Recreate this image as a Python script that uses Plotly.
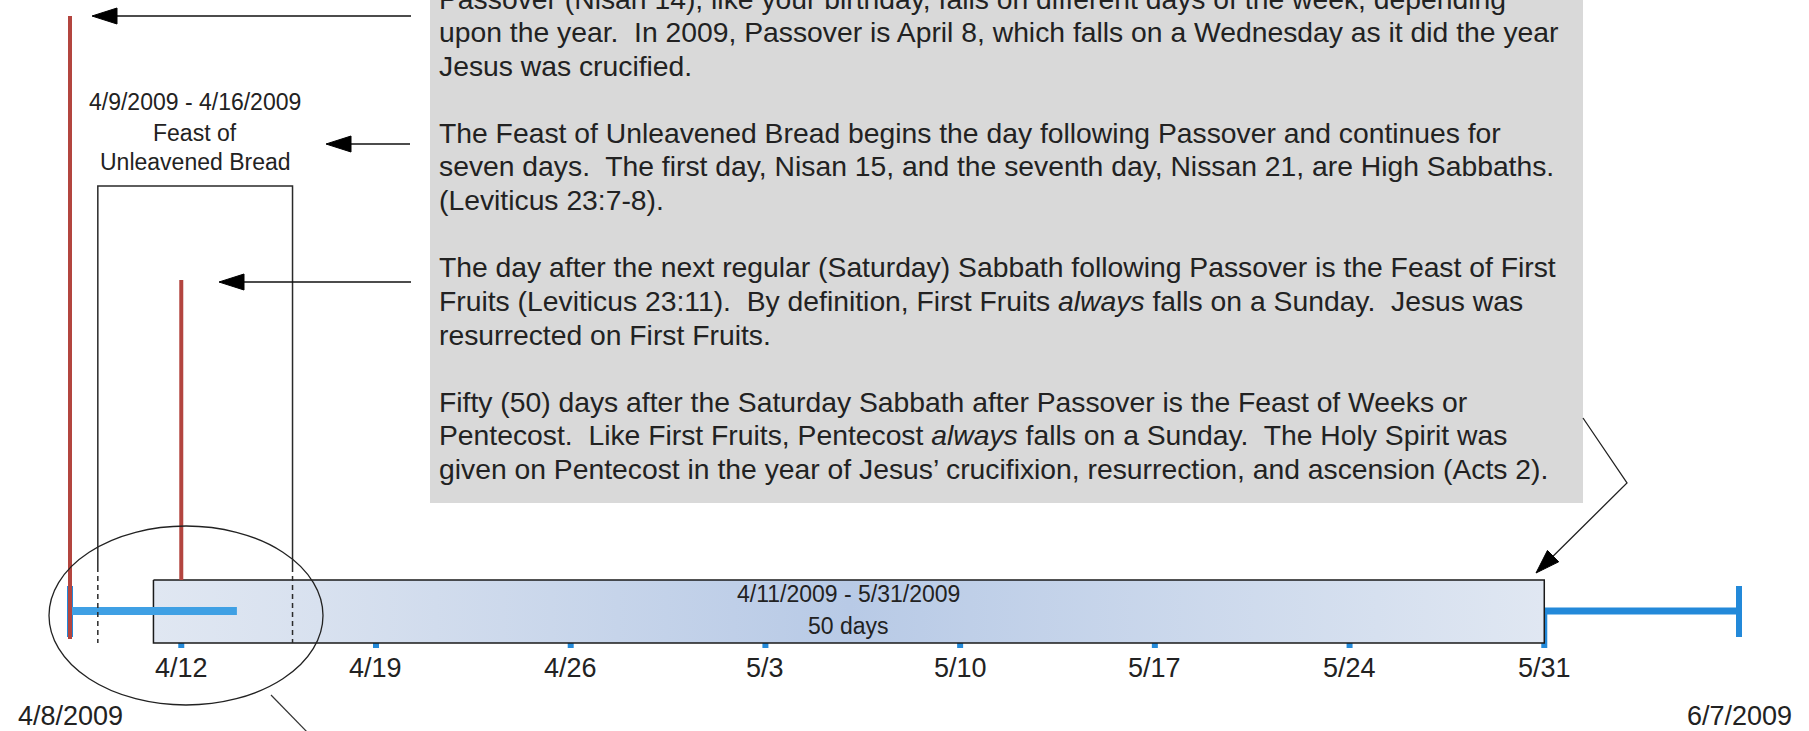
import datetime as dt
import plotly.graph_objects as go

W, H = 1809, 731

# ---------------- data ----------------
timeline_dates = ["2009-04-08", "2009-06-07"]
timeline_labels = ["4/8/2009", "6/7/2009"]
passover_date = "2009-04-08"
first_fruits_date = "2009-04-12"
unleavened_dates = ["2009-04-09", "2009-04-16"]
unleavened_label = ["4/9/2009 - 4/16/2009", "Feast of", "Unleavened Bread"]
omer_dates = ["2009-04-11", "2009-05-31"]
omer_label = ["4/11/2009 - 5/31/2009", "50 days"]
progress_dates = ["2009-04-08", "2009-04-14"]
tick_dates = ["2009-04-12", "2009-04-19", "2009-04-26", "2009-05-03",
              "2009-05-10", "2009-05-17", "2009-05-24", "2009-05-31"]
tick_labels = ["4/12", "4/19", "4/26", "5/3", "5/10", "5/17", "5/24", "5/31"]

SP = "\u00a0 "
note_lines = [
    "Passover (Nisan 14), like your birthday, falls on different days of the week, depending",
    "upon the year." + SP + "In 2009, Passover is April 8, which falls on a Wednesday as it did the year",
    "Jesus was crucified.",
    "",
    "The Feast of Unleavened Bread begins the day following Passover and continues for",
    "seven days." + SP + "The first day, Nisan 15, and the seventh day, Nissan 21, are High Sabbaths.",
    "(Leviticus 23:7-8).",
    "",
    "The day after the next regular (Saturday) Sabbath following Passover is the Feast of First",
    "Fruits (Leviticus 23:11)." + SP + "By definition, First Fruits <i>always</i> falls on a Sunday." + SP + "Jesus was",
    "resurrected on First Fruits.",
    "",
    "Fifty (50) days after the Saturday Sabbath after Passover is the Feast of Weeks or",
    "Pentecost." + SP + "Like First Fruits, Pentecost <i>always</i> falls on a Sunday." + SP + "The Holy Spirit was",
    "given on Pentecost in the year of Jesus\u2019 crucifixion, resurrection, and ascension (Acts 2).",
]

# ---------------- layout constants (pixels) ----------------
X_FIRST_PX, X_LAST_PX = 70, 1739
AXIS_Y = 611
CAP_TOP, CAP_BOT = 586, 637
BOX_TOP, BOX_BOT = 580, 643
TICK_BOT = 648
TICK_LABEL_Y = 668
END_LABEL_Y = 716
PASSOVER_TOP, PASSOVER_BOT = 16, 639
FF_TOP = 280
BRACKET_TOP, BRACKET_SOLID_BOT, BRACKET_DASH_BOT = 186, 567, 643
NOTE_LEFT, NOTE_RIGHT, NOTE_TOP, NOTE_BOT = 430, 1583, -10, 503
NOTE_TEXT_X, NOTE_FIRST_Y, NOTE_LINE_H = 437, -1.5, 33.6

BLUE = "#2389d9"
BLUE_LIGHT = "#3fa0e4"
RED = "#b3453f"
INK = "#222222"
FONT = "Liberation Sans, Arial, sans-serif"

d0 = dt.datetime.fromisoformat(timeline_dates[0])
d1 = dt.datetime.fromisoformat(timeline_dates[1])
px_per_day = (X_LAST_PX - X_FIRST_PX) / (d1 - d0).days
r0 = d0 - dt.timedelta(days=X_FIRST_PX / px_per_day)
r1 = r0 + dt.timedelta(days=W / px_per_day)


def P(x):
    return x / W


def PY(y):
    return 1 - y / H


fig = go.Figure()


def seg(xs, ys, color, width, dash="solid"):
    fig.add_trace(go.Scatter(x=xs, y=ys, mode="lines", hoverinfo="skip",
                             line=dict(color=color, width=width, dash=dash),
                             showlegend=False))


# blue timeline axis and end caps
seg(timeline_dates, [AXIS_Y, AXIS_Y], BLUE, 7)
for d in timeline_dates:
    seg([d, d], [CAP_TOP, CAP_BOT], BLUE, 6)
# weekly tick marks
tx, ty = [], []
for d in tick_dates:
    tx += [d, d, None]
    ty += [AXIS_Y, TICK_BOT, None]
seg(tx, ty, BLUE, 6)

# 50 day box with gradient
fig.add_trace(go.Scatter(
    x=[omer_dates[0], omer_dates[1], omer_dates[1], omer_dates[0], omer_dates[0]],
    y=[BOX_TOP, BOX_TOP, BOX_BOT, BOX_BOT, BOX_TOP],
    mode="lines", fill="toself", hoverinfo="skip", showlegend=False,
    line=dict(color="#1a1a1a", width=1.5),
    fillgradient=dict(type="horizontal", colorscale=[
        [0.0, "#e0e7f2"], [0.12, "#d8e1ef"], [0.5, "#b8cae6"],
        [0.88, "#d6e0ef"], [1.0, "#e0e7f2"]]),
))

# progress bar
seg(progress_dates, [AXIS_Y, AXIS_Y], BLUE_LIGHT, 8)

# Feast of Unleavened Bread bracket
seg([unleavened_dates[0], unleavened_dates[0], unleavened_dates[1], unleavened_dates[1]],
    [BRACKET_SOLID_BOT, BRACKET_TOP, BRACKET_TOP, BRACKET_SOLID_BOT], "#2a2a2a", 1.5)
for d in unleavened_dates:
    seg([d, d], [BRACKET_SOLID_BOT, BRACKET_DASH_BOT], "#2a2a2a", 1.5, dash="5px,4px")

# red markers
seg([passover_date, passover_date], [PASSOVER_TOP, PASSOVER_BOT], RED, 4)
seg([first_fruits_date, first_fruits_date], [FF_TOP, BOX_TOP], RED, 4)

shapes = []
# gray note box
shapes.append(dict(type="rect", xref="paper", yref="y", layer="below",
                   x0=P(NOTE_LEFT), x1=P(NOTE_RIGHT), y0=NOTE_TOP, y1=NOTE_BOT,
                   line=dict(width=0), fillcolor="#d9d9d9"))


def arrow(x_from, tip, y):
    # horizontal arrow pointing left to tip
    shapes.append(dict(type="line", xref="paper", yref="y",
                       x0=P(x_from), x1=P(tip + 20), y0=y, y1=y,
                       line=dict(color="#111", width=1.5)))
    path = f"M {P(tip)},{y} L {P(tip + 25)},{y - 8} L {P(tip + 25)},{y + 8} Z"
    shapes.append(dict(type="path", xref="paper", yref="y", path=path,
                       fillcolor="#000", line=dict(color="#000", width=1)))


arrow(411, 92, 16)
arrow(410, 326, 144)
arrow(411, 219, 282)

# right callout to end of 50-day box
pts = [(1583, 418), (1627, 483), (1536, 573)]
dx, dy = pts[2][0] - pts[1][0], pts[2][1] - pts[1][1]
L = (dx * dx + dy * dy) ** 0.5
ux, uy = dx / L, dy / L
bx, by = pts[2][0] - 24 * ux, pts[2][1] - 24 * uy
nx, ny = -uy, ux
shapes.append(dict(type="path", xref="paper", yref="y",
                   path=f"M {P(pts[0][0])},{pts[0][1]} L {P(pts[1][0])},{pts[1][1]} L {P(bx + 4*ux)},{by + 4*uy}",
                   line=dict(color="#222", width=1.3)))
shapes.append(dict(type="path", xref="paper", yref="y",
                   path=f"M {P(pts[2][0])},{pts[2][1]} L {P(bx + 8*nx)},{by + 8*ny} L {P(bx - 8*nx)},{by - 8*ny} Z",
                   fillcolor="#000", line=dict(color="#000", width=1)))

# ellipse around the first week and its leader line
shapes.append(dict(type="circle", xref="paper", yref="y",
                   x0=P(49), x1=P(323), y0=526, y1=705,
                   line=dict(color="#222", width=1.3)))
shapes.append(dict(type="line", xref="paper", yref="y",
                   x0=P(271), x1=P(310), y0=695, y1=735,
                   line=dict(color="#333", width=1.2)))

annotations = []
for i, t in enumerate(note_lines):
    if not t:
        continue
    annotations.append(dict(text=t, xref="paper", yref="paper", x=P(NOTE_TEXT_X),
                            y=PY(NOTE_FIRST_Y + i * NOTE_LINE_H), xanchor="left",
                            yanchor="middle", showarrow=False,
                            font=dict(family=FONT, size=28.3, color=INK)))

# unleavened bread label
mid_unleavened = (dt.datetime.fromisoformat(unleavened_dates[0]) +
                  (dt.datetime.fromisoformat(unleavened_dates[1]) -
                   dt.datetime.fromisoformat(unleavened_dates[0])) / 2)
for t, y in zip(unleavened_label, [102, 133, 162]):
    annotations.append(dict(text=t, xref="x", yref="y", x=mid_unleavened, y=y,
                            showarrow=False, xanchor="center", yanchor="middle",
                            font=dict(family=FONT, size=23, color=INK)))

# 50 day label
mid_omer = (dt.datetime.fromisoformat(omer_dates[0]) +
            (dt.datetime.fromisoformat(omer_dates[1]) -
             dt.datetime.fromisoformat(omer_dates[0])) / 2)
for t, y in zip(omer_label, [594, 626]):
    annotations.append(dict(text=t, xref="x", yref="y", x=mid_omer, y=y,
                            showarrow=False, xanchor="center", yanchor="middle",
                            font=dict(family=FONT, size=23, color=INK)))

# tick labels
for d, t in zip(tick_dates, tick_labels):
    annotations.append(dict(text=t, xref="x", yref="y", x=d, y=TICK_LABEL_Y,
                            showarrow=False, xanchor="center", yanchor="middle",
                            font=dict(family=FONT, size=27, color=INK)))
for d, t in zip(timeline_dates, timeline_labels):
    annotations.append(dict(text=t, xref="x", yref="y", x=d, y=END_LABEL_Y,
                            showarrow=False, xanchor="center", yanchor="middle",
                            font=dict(family=FONT, size=27, color=INK)))

fig.update_layout(
    width=W, height=H, margin=dict(l=0, r=0, t=0, b=0),
    paper_bgcolor="white", plot_bgcolor="white",
    xaxis=dict(type="date", range=[r0, r1], visible=False, fixedrange=True),
    yaxis=dict(range=[H, 0], visible=False, fixedrange=True),
    shapes=shapes, annotations=annotations, showlegend=False,
)

fig.write_html("out.html", config=dict(displayModeBar=False),
               post_script="document.body.style.margin='0';document.body.style.overflow='hidden';")
